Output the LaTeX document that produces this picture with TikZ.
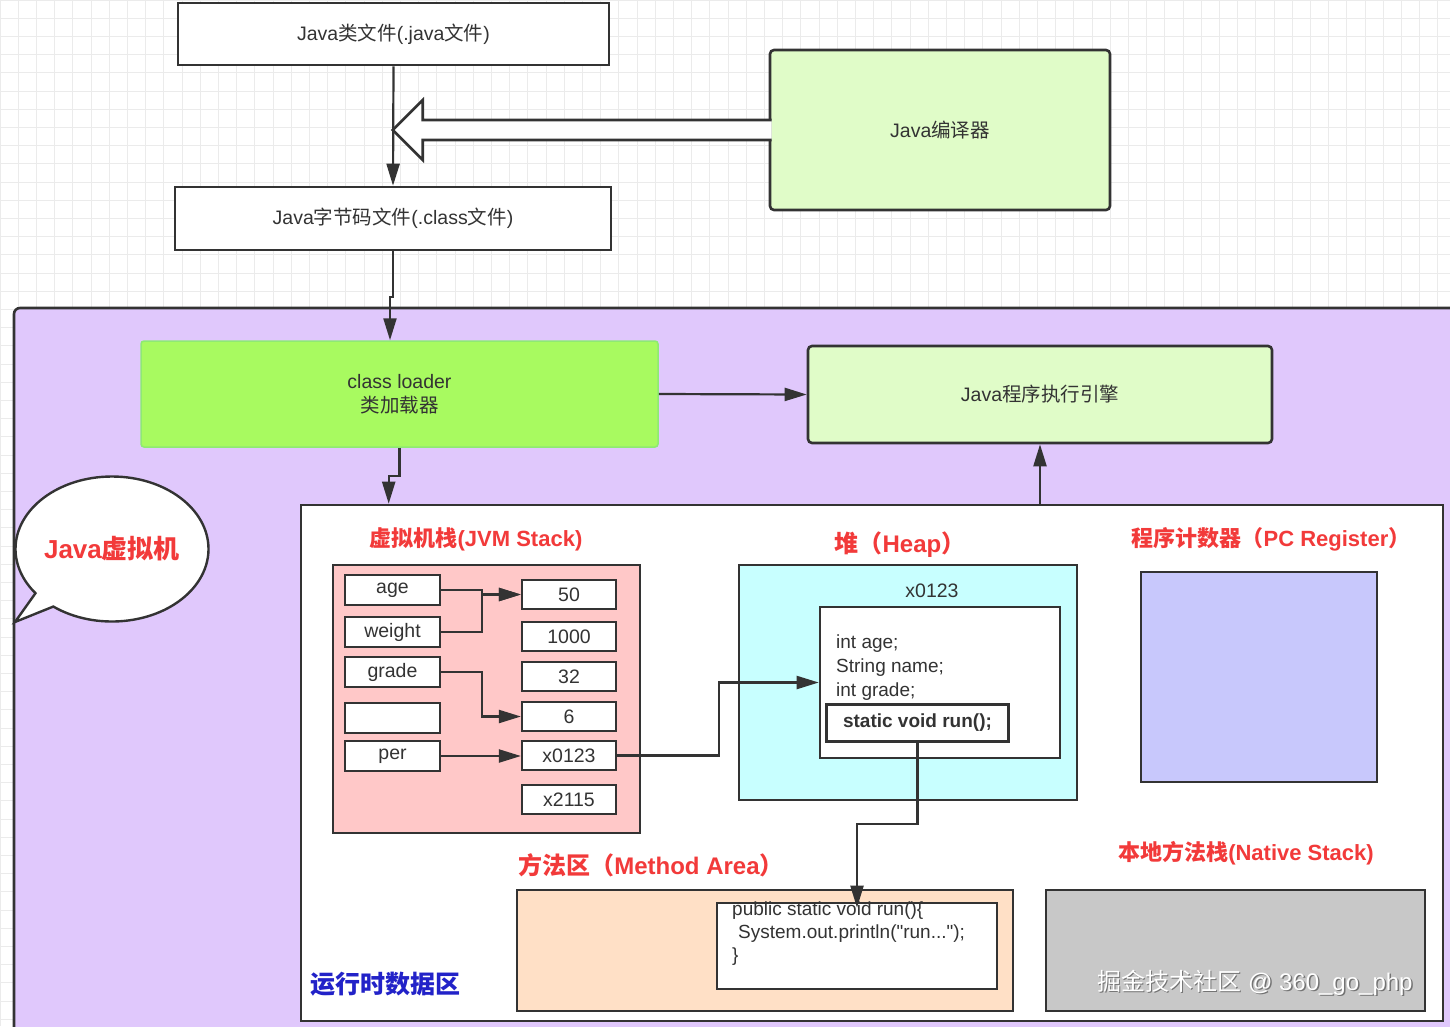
\documentclass[tikz,border=0pt]{standalone}
\usepackage{fontspec}
\setmainfont{Liberation Sans}
\newfontfamily\cjk{Noto Sans CJK SC}
\newfontfamily\codefont{Liberation Sans}[Ligatures=TeXOff]
\usetikzlibrary{arrows.meta,shapes.callouts,calc}
\definecolor{bordc}{HTML}{333333}
\definecolor{textc}{HTML}{333333}
\definecolor{gridc}{HTML}{EBEBEB}
\definecolor{lavc}{HTML}{E0C8FC}
\definecolor{loadc}{HTML}{A8FA60}
\definecolor{loadb}{HTML}{8EEA72}
\definecolor{ltgreen}{HTML}{E0FCC8}
\definecolor{pinkc}{HTML}{FFC8C8}
\definecolor{cyanc}{HTML}{C8FFFF}
\definecolor{peachc}{HTML}{FFE0C6}
\definecolor{pcc}{HTML}{C8C8FC}
\definecolor{grayc}{HTML}{C8C8C8}
\definecolor{redc}{HTML}{F23A3A}
\definecolor{bluec}{HTML}{2222C8}
\begin{document}
\begin{tikzpicture}[x=1pt,y=-1pt,
  box/.style={draw=bordc, line width=2.6pt, fill=white, inner sep=0pt, text=textc,
    font=\fontsize{19.5}{23}\selectfont},
  cell/.style={box, line width=2.2pt, minimum width=95pt, minimum height=30pt},
  vcell/.style={box, line width=2.2pt, minimum width=94pt, minimum height=29pt},
  region/.style={draw=bordc, line width=2.6pt, inner sep=0pt},
  arr/.style={draw=bordc, line width=2.2pt, -{Triangle[length=22pt,width=13pt]}},
  lab/.style={text=redc, inner sep=0pt, font=\bfseries\fontsize{22}{26}\selectfont},
  biglab/.style={text=redc, inner sep=0pt, font=\bfseries\fontsize{24}{28}\selectfont},
  code/.style={text=textc, inner sep=0pt, anchor=west, font=\fontsize{19}{22}\selectfont}
]
\useasboundingbox (0,0) rectangle (1450,1026);
% background grid
\fill[white] (0,0) rectangle (1450,1026);
\foreach \i in {0,...,80} {
  \draw[gridc, line width=0.7pt] (\i*18.2,0) -- (\i*18.2,1026);
}
\foreach \j in {0,...,57} {
  \draw[gridc, line width=0.7pt] (0,\j*18.2) -- (1450,\j*18.2);
}

% top boxes
\node[box, minimum width=431pt, minimum height=62pt] (java) at (393.5,34) {Java{\cjk 类文件}(.java{\cjk 文件})};
\node[box, minimum width=436pt, minimum height=63pt] (cls) at (393,218.5) {Java{\cjk 字节码文件}(.class{\cjk 文件})};
\node[box, fill=ltgreen, rounded corners=4pt, minimum width=340pt, minimum height=160pt] (comp) at (940,130) {Java{\cjk 编译器}};

\draw[arr] (java.south) -- (cls.north);
% hollow fat arrow from compiler
\draw[draw=bordc, line width=2.6pt, fill=white, line join=miter]
  ($(comp.west)+(3,-10)$) -- ++(-349,0) -- ++(0,-20) -- ++(-30,30) -- ++(30,30) -- ++(0,-20) -- ++(349,0);

% JVM outer region
\draw[region, fill=lavc, rounded corners=6pt] (14,308) rectangle (1480,1060);

% speech bubble
\node[ellipse callout, draw=bordc, line width=2.4pt, fill=white, inner sep=0pt, minimum width=193pt, minimum height=145pt,
  callout absolute pointer={(15,622)}] (bubble) at (112,549) {};
\node[text=redc, inner sep=0pt, font=\bfseries\fontsize{26}{30}\selectfont] (bubtext) at (bubble.center) {Java{\cjk 虚拟机}};

% class loader and engine
\node[draw=loadb, line width=1.5pt, fill=loadc, rounded corners=3pt, minimum width=517pt, minimum height=106pt,
  align=center, text=textc, font=\fontsize{19.5}{24}\selectfont] (loader) at (399.5,394) {class loader\\{\cjk 类加载器}};
\node[box, fill=ltgreen, rounded corners=4pt, minimum width=464pt, minimum height=97pt] (engine) at (1040,394.5) {Java{\cjk 程序执行引擎}};

% runtime data area
\node[region, fill=white, minimum width=1142pt, minimum height=516pt] (rda) at (872,763) {};
\node[text=bluec, anchor=west, inner sep=0pt, font=\bfseries\cjk\fontsize{25}{28}\selectfont] (rdalab) at (310,984) {运行时数据区};

% connectors at top
\draw[arr] (cls.south) -- ++(0,46) -| ([xshift=-9.5pt]loader.north);
\draw[arr] (loader.south) -- ++(0,28) -| ([xshift=89pt]rda.north west);
\draw[arr] (loader.east) -- (engine.west);
\draw[arr] (engine.south |- rda.north) -- (engine.south);

% JVM stack
\node[lab] (stacklab) at (476,539) {{\cjk 虚拟机栈}(JVM Stack)};
\node[region, fill=pinkc, minimum width=307pt, minimum height=268pt] (stack) at (486.5,699) {};
\node[cell] (age) at (392.5,590) {age};
\node[cell] (weight) at (392.5,632) {weight};
\node[cell] (grade) at (392.5,672) {grade};
\node[cell] (empty) at (392.5,718) {};
\node[cell] (per) at (392.5,756) {per};
\node[vcell] (v50) at (569,594.5) {50};
\node[vcell] (v1000) at (569,636.5) {1000};
\node[vcell] (v32) at (569,676.5) {32};
\node[vcell] (v6) at (569,716.5) {6};
\node[vcell] (vx) at (569,755.5) {x0123};
\node[vcell] (vy) at (569,799.5) {x2115};
\draw[arr] (age.east) -- ++(41,0) |- (v50.west);
\draw[arr] (weight.east) -- ++(41,0) |- (v50.west);
\draw[arr] (grade.east) -- ++(41,0) |- (v6.west);
\draw[arr] (per.east) -- (per.east -| vx.west);

% Heap
\node[biglab] (heaplab) at (900,545) {{\cjk 堆（}Heap{\cjk ）}};
\node[region, fill=cyanc, minimum width=338pt, minimum height=235pt] (heap) at (908,682.5) {};
\node[text=textc, inner sep=0pt, font=\fontsize{19.5}{23}\selectfont] (haddr) at (932,591) {x0123};
\node[box, minimum width=240pt, minimum height=151pt] (obj) at (940,682.5) {};
\node[code] (f1) at (836,644) {int age;};
\node[code] (f2) at (836,668) {String name;};
\node[code] (f3) at (836,692) {int grade;};
\node[box, font=\bfseries\fontsize{19}{22}\selectfont, minimum width=182pt, minimum height=37pt] (run) at (917.5,723) {static void run();};
\draw[arr] (vx.east) -- ++(102,0) |- (obj.west);

% Method area
\node[biglab] (mlab) at (651,865) {{\cjk 方法区（}Method Area{\cjk ）}};
\node[region, fill=peachc, minimum width=496pt, minimum height=121pt] (method) at (765,950.5) {};
\node[box, minimum width=280pt, minimum height=86pt] (codebox) at (857,946) {};
\node[code] (c1) at (732,911) {public static void run()\{};
\node[code] (c2) at (738,934) {\codefont System.out.println("run...");};
\node[code] (c3) at (732,957) {\}};
\draw[arr] (run.south) -- ++(0,81) -| ([yshift=-6pt]codebox.north);

% PC register
\node[lab] (pclab) at (1271,539) {{\cjk 程序计数器（}PC Register{\cjk ）}};
\node[region, fill=pcc, minimum width=236pt, minimum height=210pt] (pc) at (1259,677) {};

% Native stack
\node[lab] (nlab) at (1246,853) {{\cjk 本地方法栈}(Native Stack)};
\node[region, fill=grayc, minimum width=379pt, minimum height=121pt] (native) at (1235.5,950.5) {};
\node[text=black!55, inner sep=0pt, font=\fontsize{24}{28}\selectfont] (wmshadow) at (1256.5,984.2) {{\cjk 掘金技术社区} @ 360\_go\_php};
\node[text=white, inner sep=0pt, font=\fontsize{24}{28}\selectfont] (wm) at (1255,983) {{\cjk 掘金技术社区} @ 360\_go\_php};
\end{tikzpicture}
\end{document}
